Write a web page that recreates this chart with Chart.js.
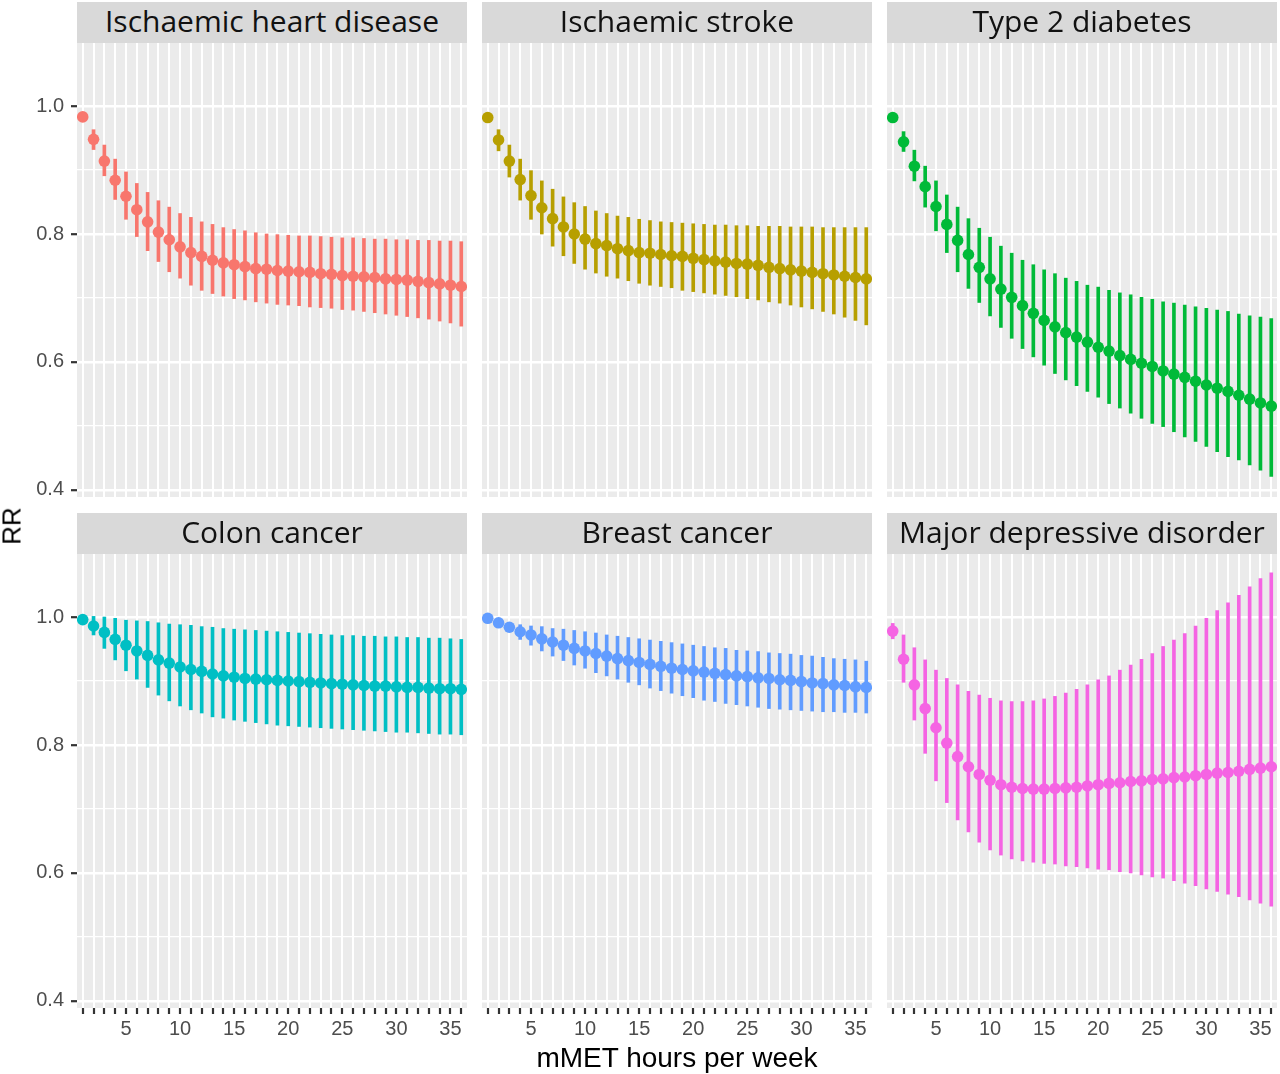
<!DOCTYPE html>
<html>
<head>
<meta charset="utf-8">
<script src="https://cdn.jsdelivr.net/npm/chart.js@4.4.1/dist/chart.umd.min.js"></script>
<style>
  html, body { margin:0; padding:0; background:#ffffff; }
  body { width:1280px; height:1074px; position:relative; overflow:hidden; }
  canvas { position:absolute; }
  .strip { position:absolute; background:#D9D9D9; color:#111111; font-family:"Open Sans", sans-serif;
           font-size:30px; text-align:center; white-space:nowrap; }
  .axtitle { position:absolute; font-family:"Liberation Sans", Arial, sans-serif; color:#000; white-space:nowrap; }
</style>
</head>
<body>
<script>
// ---------------- DATA ----------------
const xValues = [1,2,3,4,5,6,7,8,9,10,11,12,13,14,15,16,17,18,19,20,21,22,23,24,25,26,27,28,29,30,31,32,33,34,35,36];
const xTickLabels = ['5','10','15','20','25','30','35'];
const yTickLabels = ['0.4','0.6','0.8','1.0'];
const panelTitles = ['Ischaemic heart disease','Ischaemic stroke','Type 2 diabetes','Colon cancer','Breast cancer','Major depressive disorder'];
const panelColors = ['#F8766D','#B79F00','#00BA38','#00BFC4','#619CFF','#F564E3'];

const ihdRR = [0.983,0.948,0.914,0.884,0.859,0.838,0.819,0.803,0.791,0.780,0.771,0.765,0.759,0.755,0.752,0.749,0.746,0.745,0.743,0.742,0.741,0.740,0.738,0.737,0.735,0.734,0.733,0.732,0.730,0.729,0.728,0.726,0.724,0.722,0.720,0.718];
const ihdLo = [0.980,0.932,0.891,0.854,0.823,0.796,0.774,0.757,0.741,0.731,0.720,0.712,0.707,0.703,0.699,0.697,0.694,0.692,0.690,0.689,0.688,0.686,0.685,0.684,0.682,0.681,0.679,0.677,0.675,0.673,0.671,0.669,0.667,0.664,0.661,0.656];
const ihdHi = [0.986,0.963,0.939,0.917,0.897,0.879,0.865,0.852,0.842,0.832,0.826,0.819,0.815,0.810,0.807,0.805,0.802,0.800,0.799,0.798,0.797,0.797,0.796,0.795,0.794,0.794,0.793,0.792,0.792,0.791,0.791,0.790,0.790,0.789,0.789,0.788];

const strokeRR = [0.982,0.947,0.914,0.885,0.860,0.841,0.824,0.811,0.800,0.792,0.785,0.782,0.777,0.774,0.771,0.770,0.768,0.766,0.765,0.762,0.760,0.758,0.756,0.754,0.753,0.751,0.748,0.746,0.744,0.742,0.740,0.738,0.736,0.734,0.732,0.730];
const strokeLo = [0.979,0.930,0.889,0.853,0.823,0.800,0.781,0.766,0.754,0.745,0.739,0.734,0.731,0.727,0.723,0.720,0.718,0.716,0.712,0.710,0.708,0.706,0.704,0.702,0.699,0.697,0.694,0.692,0.689,0.686,0.683,0.679,0.675,0.670,0.665,0.658];
const strokeHi = [0.985,0.963,0.939,0.917,0.899,0.883,0.870,0.858,0.849,0.843,0.836,0.832,0.828,0.826,0.823,0.821,0.819,0.818,0.817,0.816,0.815,0.814,0.814,0.813,0.813,0.812,0.812,0.812,0.811,0.811,0.811,0.810,0.810,0.810,0.810,0.810];

const t2dRR = [0.982,0.944,0.906,0.874,0.843,0.815,0.790,0.768,0.748,0.730,0.714,0.701,0.688,0.676,0.665,0.655,0.646,0.639,0.631,0.623,0.617,0.610,0.604,0.598,0.593,0.586,0.581,0.576,0.570,0.564,0.559,0.554,0.548,0.542,0.536,0.531];
const t2dLo = [0.979,0.929,0.883,0.842,0.805,0.771,0.741,0.715,0.693,0.672,0.654,0.637,0.621,0.608,0.595,0.582,0.572,0.563,0.554,0.545,0.535,0.528,0.520,0.512,0.504,0.499,0.491,0.483,0.476,0.468,0.460,0.452,0.447,0.439,0.431,0.421];
const t2dHi = [0.985,0.960,0.931,0.906,0.883,0.861,0.842,0.824,0.809,0.795,0.781,0.770,0.759,0.752,0.744,0.738,0.731,0.726,0.720,0.717,0.712,0.708,0.705,0.701,0.698,0.694,0.692,0.689,0.686,0.684,0.681,0.679,0.675,0.672,0.670,0.668];

const colonRR = [0.996,0.986,0.976,0.965,0.956,0.947,0.940,0.933,0.928,0.922,0.918,0.915,0.911,0.908,0.906,0.904,0.903,0.902,0.901,0.900,0.899,0.898,0.897,0.896,0.895,0.894,0.893,0.892,0.892,0.891,0.890,0.890,0.889,0.888,0.888,0.887];
const colonLo = [0.993,0.972,0.951,0.933,0.916,0.903,0.890,0.878,0.869,0.861,0.855,0.850,0.844,0.842,0.839,0.837,0.835,0.833,0.831,0.830,0.829,0.828,0.827,0.826,0.825,0.824,0.823,0.822,0.821,0.820,0.820,0.819,0.818,0.817,0.817,0.816];
const colonHi = [0.999,1.001,1.000,0.998,0.995,0.994,0.993,0.991,0.989,0.988,0.987,0.985,0.984,0.982,0.981,0.980,0.979,0.978,0.977,0.976,0.975,0.974,0.973,0.972,0.971,0.971,0.970,0.970,0.969,0.969,0.968,0.968,0.967,0.967,0.966,0.965];

const breastRR = [0.998,0.991,0.984,0.977,0.972,0.966,0.961,0.956,0.951,0.947,0.943,0.939,0.935,0.932,0.929,0.926,0.923,0.920,0.918,0.916,0.914,0.912,0.910,0.908,0.907,0.905,0.904,0.902,0.901,0.899,0.897,0.896,0.894,0.893,0.891,0.890];
const breastLo = [0.996,0.987,0.977,0.965,0.956,0.947,0.939,0.932,0.925,0.920,0.913,0.908,0.903,0.898,0.894,0.889,0.885,0.881,0.877,0.874,0.870,0.868,0.865,0.863,0.861,0.859,0.857,0.856,0.855,0.854,0.853,0.852,0.852,0.851,0.851,0.850];
const breastHi = [1.000,0.995,0.990,0.988,0.986,0.985,0.982,0.981,0.979,0.977,0.975,0.972,0.970,0.968,0.966,0.964,0.962,0.960,0.958,0.956,0.954,0.952,0.951,0.948,0.947,0.946,0.944,0.943,0.942,0.940,0.939,0.937,0.935,0.934,0.933,0.931];

const mddRR = [0.978,0.934,0.894,0.857,0.827,0.803,0.782,0.766,0.754,0.745,0.738,0.734,0.732,0.731,0.731,0.732,0.733,0.734,0.736,0.738,0.740,0.741,0.743,0.744,0.746,0.747,0.749,0.750,0.752,0.754,0.756,0.757,0.759,0.762,0.764,0.766];
const mddLo = [0.966,0.898,0.839,0.787,0.744,0.710,0.683,0.664,0.648,0.636,0.628,0.622,0.619,0.617,0.615,0.614,0.611,0.610,0.608,0.606,0.605,0.602,0.600,0.597,0.594,0.592,0.588,0.584,0.580,0.575,0.571,0.567,0.563,0.558,0.553,0.548];
const mddHi = [0.990,0.972,0.952,0.933,0.917,0.904,0.894,0.884,0.878,0.873,0.869,0.868,0.868,0.869,0.872,0.876,0.881,0.887,0.894,0.902,0.908,0.917,0.925,0.934,0.943,0.954,0.964,0.974,0.986,0.998,1.010,1.022,1.034,1.047,1.060,1.069];

const yGridValues = [0.4,0.5,0.6,0.7,0.8,0.9,1.0];

const seriesRR = [ihdRR, strokeRR, t2dRR, colonRR, breastRR, mddRR];
const seriesLo = [ihdLo, strokeLo, t2dLo, colonLo, breastLo, mddLo];
const seriesHi = [ihdHi, strokeHi, t2dHi, colonHi, breastHi, mddHi];

// ---------------- LAYOUT ----------------
const COL_LEFT = [77, 482, 887];
const ROW_TOP = [43, 554];
const PANEL_W = 390, PANEL_H = 454;
const STRIP_H = 41;
const Y_AXIS_W = 77, X_AXIS_H = 46, M = 20;
const Y_MIN = 0.389, Y_MAX = 1.0985;
const X_MIN = 0.47, X_MAX = 36.53;

function isMajorY(v){ return yTickLabels.includes(v.toFixed(1)); }

for (let i = 0; i < 6; i++) {
  const col = i % 3, row = Math.floor(i / 3);
  const L = col === 0 ? Y_AXIS_W : 0;
  const B = row === 1 ? X_AXIS_H : 0;

  const strip = document.createElement('div');
  strip.className = 'strip';
  strip.style.left = COL_LEFT[col] + 'px';
  strip.style.top = (ROW_TOP[row] - STRIP_H) + 'px';
  strip.style.width = PANEL_W + 'px';
  strip.style.height = STRIP_H + 'px';
  strip.style.lineHeight = (STRIP_H - 4) + 'px';
  strip.textContent = panelTitles[i];
  document.body.appendChild(strip);

  const cv = document.createElement('canvas');
  const w = PANEL_W + L + 2*M, h = PANEL_H + B + 2*M;
  cv.width = w; cv.height = h;
  cv.style.width = w + 'px'; cv.style.height = h + 'px';
  cv.style.left = (COL_LEFT[col] - L - M) + 'px';
  cv.style.top = (ROW_TOP[row] - M) + 'px';
  document.body.appendChild(cv);

  const color = panelColors[i];
  const ciData = xValues.map((x, k) => ({ x: x, y: [seriesLo[i][k], seriesHi[i][k]] }));
  const ptData = xValues.map((x, k) => ({ x: x, y: seriesRR[i][k] }));

  new Chart(cv, {
    type: 'bar',
    data: {
      datasets: [
        { type: 'scatter', data: ptData, backgroundColor: color, borderWidth: 0,
          pointRadius: 5.8, pointHoverRadius: 5.8, order: 0 },
        { type: 'bar', data: ciData, backgroundColor: color, borderWidth: 0,
          barThickness: 3, grouped: false, order: 1 }
      ]
    },
    plugins: [{
      id: 'panelBg',
      beforeDraw(chart) {
        const a = chart.chartArea, c = chart.ctx;
        c.save(); c.fillStyle = '#EBEBEB';
        c.fillRect(a.left, a.top, a.right - a.left, a.bottom - a.top);
        c.restore();
      }
    }],
    options: {
      responsive: false,
      animation: false,
      devicePixelRatio: 1,
      layout: { padding: M },
      plugins: { legend: { display: false }, tooltip: { enabled: false }, title: { display: false } },
      events: [],
      scales: {
        x: {
          type: 'linear', min: X_MIN, max: X_MAX, offset: false,
          afterBuildTicks: s => { s.ticks = xValues.map(v => ({ value: v })); },
          afterFit: s => { s.height = B; },
          border: { display: false },
          grid: { color: '#FFFFFF', lineWidth: 2, offset: false, drawTicks: row === 1,
                  tickLength: 6, tickColor: '#333333', tickWidth: 2.2 },
          ticks: { display: row === 1, autoSkip: false, maxRotation: 0, minRotation: 0, padding: 3,
                   color: '#4D4D4D', font: { family: 'Liberation Sans', size: 20 },
                   callback: v => xTickLabels.includes(String(v)) ? String(v) : '' }
        },
        y: {
          type: 'linear', min: Y_MIN, max: Y_MAX, beginAtZero: false,
          afterBuildTicks: s => { s.ticks = yGridValues.map(v => ({ value: v })); },
          afterFit: s => { s.width = L; },
          border: { display: false },
          grid: { color: '#FFFFFF', lineWidth: ctx => isMajorY(ctx.tick.value) ? 2.4 : 1.2,
                  drawTicks: col === 0, tickLength: 6, tickWidth: 2.2,
                  tickColor: ctx => isMajorY(ctx.tick.value) ? '#333333' : 'rgba(0,0,0,0)' },
          ticks: { display: col === 0, padding: 7, color: '#4D4D4D',
                   font: { family: 'Liberation Sans', size: 20 },
                   callback: v => isMajorY(v) ? v.toFixed(1) : '' }
        }
      }
    }
  });
}

const yt = document.createElement('div');
yt.className = 'axtitle';
yt.textContent = 'RR';
yt.style.fontSize = '26px';
yt.style.left = '12px'; yt.style.top = '526px';
yt.style.transform = 'translate(-50%,-50%) rotate(-90deg)';
document.body.appendChild(yt);

const xt = document.createElement('div');
xt.className = 'axtitle';
xt.textContent = 'mMET hours per week';
xt.style.fontSize = '28px';
xt.style.left = '677px'; xt.style.top = '1058px';
xt.style.transform = 'translate(-50%,-50%)';
document.body.appendChild(xt);
</script>
</body>
</html>
